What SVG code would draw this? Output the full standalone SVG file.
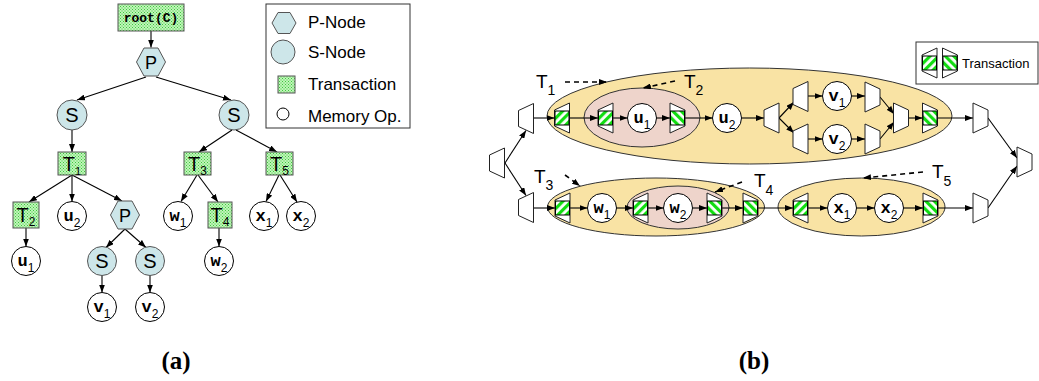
<svg xmlns="http://www.w3.org/2000/svg" width="1039" height="381" viewBox="0 0 1039 381">
<style>
.ln{stroke:#000;stroke-width:1.1;fill:none}
.dash{stroke:#000;stroke-width:1.6;fill:none;stroke-dasharray:5,4}
.blue{fill:#cde6e9;stroke:#555;stroke-width:1}
.mem{fill:#fff;stroke:#000;stroke-width:1}
.box{fill:url(#dots);stroke:#555;stroke-width:1}
.lbl{font-family:"Liberation Sans",Arial,sans-serif;fill:#000}
.mono{font-family:"Liberation Mono","Courier New",monospace;font-weight:bold;fill:#000}
.sub{font-family:"Liberation Sans",Arial,sans-serif;font-weight:normal}
.yel{fill:#f9e3a4;stroke:#333;stroke-width:1}
.pink{fill:#eed4cb;stroke:#333;stroke-width:1}
.trap{fill:#fff;stroke:#222;stroke-width:1}
</style>
<defs>
<pattern id="dots" width="3" height="3" patternUnits="userSpaceOnUse">
<rect width="3" height="3" fill="#bff5b8"/>
<rect x="0" y="0" width="1" height="1" fill="#3fc83f"/>
<rect x="1.5" y="1.5" width="1" height="1" fill="#3fc83f"/>
</pattern>
<pattern id="stA" width="6" height="6" patternUnits="userSpaceOnUse" patternTransform="rotate(45)">
<rect width="6" height="6" fill="#fff"/>
<rect width="3.2" height="6" fill="#11dd11"/>
</pattern>
<pattern id="stB" width="6" height="6" patternUnits="userSpaceOnUse" patternTransform="rotate(-45)">
<rect width="6" height="6" fill="#fff"/>
<rect width="3.2" height="6" fill="#11dd11"/>
</pattern>
<marker id="ah" viewBox="0 0 8 6" refX="8" refY="3" markerWidth="8" markerHeight="6" markerUnits="userSpaceOnUse" orient="auto">
<path d="M0,0 L8,3 L0,6 z" fill="#000"/>
</marker>
<polygon id="hex" points="-14.5,0 -7,-14 7,-14 14.5,0 7,14 -7,14" class="blue"/>
<g id="tb"><polygon class="trap" points="-7.5,-8 7.5,-15 7.5,15 -7.5,8"/><rect x="-7" y="-7" width="14" height="14" fill="url(#stA)" stroke="#000" stroke-width="1"/></g>
<g id="te"><polygon class="trap" points="-7.5,-15 7.5,-8 7.5,8 -7.5,15"/><rect x="-7" y="-7" width="14" height="14" fill="url(#stB)" stroke="#000" stroke-width="1"/></g>
<polygon id="fk" class="trap" points="-7.5,-8 7.5,-15 7.5,15 -7.5,8"/>
<polygon id="jn" class="trap" points="-7.5,-15 7.5,-8 7.5,8 -7.5,15"/>
</defs>
<rect width="1039" height="381" fill="#fff"/>

<!-- ===== (a) tree ===== -->
<g id="connectors-a">
<line class="ln" x1="151" y1="31" x2="151" y2="47.5" marker-end="url(#ah)"/>
<line class="ln" x1="146" y1="77" x2="77" y2="100" marker-end="url(#ah)"/>
<line class="ln" x1="156" y1="77" x2="231" y2="100" marker-end="url(#ah)"/>
<line class="ln" x1="72" y1="130" x2="72" y2="152" marker-end="url(#ah)"/>
<line class="ln" x1="232" y1="130" x2="199" y2="152" marker-end="url(#ah)"/>
<line class="ln" x1="236" y1="130" x2="277" y2="152" marker-end="url(#ah)"/>
<line class="ln" x1="72" y1="175" x2="29" y2="202" marker-end="url(#ah)"/>
<line class="ln" x1="72" y1="175" x2="72" y2="201.5" marker-end="url(#ah)"/>
<line class="ln" x1="72" y1="175" x2="122" y2="201" marker-end="url(#ah)"/>
<line class="ln" x1="197" y1="175" x2="181" y2="201.5" marker-end="url(#ah)"/>
<line class="ln" x1="198" y1="175" x2="218" y2="202" marker-end="url(#ah)"/>
<line class="ln" x1="279" y1="175" x2="266" y2="201.5" marker-end="url(#ah)"/>
<line class="ln" x1="280" y1="175" x2="297" y2="202" marker-end="url(#ah)"/>
<line class="ln" x1="26" y1="228" x2="26" y2="246.5" marker-end="url(#ah)"/>
<line class="ln" x1="125" y1="229" x2="106" y2="247.5" marker-end="url(#ah)"/>
<line class="ln" x1="125" y1="229" x2="146" y2="247.5" marker-end="url(#ah)"/>
<line class="ln" x1="219" y1="228" x2="219" y2="246.5" marker-end="url(#ah)"/>
<line class="ln" x1="102" y1="275" x2="102" y2="292.5" marker-end="url(#ah)"/>
<line class="ln" x1="150" y1="275" x2="150" y2="292.5" marker-end="url(#ah)"/>
</g>

<g id="root"><rect class="box" x="118" y="4" width="66" height="27"/><text class="mono" x="151" y="22" font-size="13" text-anchor="middle">root(C)</text></g>
<g id="P1"><use href="#hex" x="151" y="62"/><text class="lbl" x="151" y="68.5" font-size="18" text-anchor="middle">P</text></g>
<g id="S1"><circle class="blue" cx="72" cy="115" r="15"/><text class="lbl" x="72" y="122" font-size="20" text-anchor="middle">S</text></g>
<g id="S2"><circle class="blue" cx="234" cy="115" r="15"/><text class="lbl" x="234" y="122" font-size="20" text-anchor="middle">S</text></g>
<g id="T1"><rect class="box" x="58" y="152" width="28" height="23"/><text class="lbl" x="72" y="171" font-size="20" text-anchor="middle">T<tspan class="sub" font-size="11" dy="4">1</tspan></text></g>
<g id="T3"><rect class="box" x="184" y="152" width="27" height="23"/><text class="lbl" x="197.5" y="171" font-size="20" text-anchor="middle">T<tspan class="sub" font-size="12" dy="4">3</tspan></text></g>
<g id="T5"><rect class="box" x="266" y="152" width="27" height="23"/><text class="lbl" x="279.5" y="171" font-size="20" text-anchor="middle">T<tspan class="sub" font-size="12" dy="4">5</tspan></text></g>
<g id="T2"><rect class="box" x="13" y="202" width="26" height="26"/><text class="lbl" x="26" y="222" font-size="20" text-anchor="middle">T<tspan class="sub" font-size="12" dy="4">2</tspan></text></g>
<g id="u2"><circle class="mem" cx="72" cy="216" r="14.5"/><text class="mono" x="72" y="221" font-size="17" text-anchor="middle">u<tspan class="sub" font-size="12" dy="6">2</tspan></text></g>
<g id="P2"><use href="#hex" x="125" y="215"/><text class="lbl" x="125" y="221.5" font-size="18" text-anchor="middle">P</text></g>
<g id="w1"><circle class="mem" cx="178" cy="216" r="14.5"/><text class="mono" x="178" y="221" font-size="17" text-anchor="middle">w<tspan class="sub" font-size="12" dy="6">1</tspan></text></g>
<g id="T4"><rect class="box" x="208" y="202" width="24" height="26"/><text class="lbl" x="220" y="222" font-size="20" text-anchor="middle">T<tspan class="sub" font-size="12" dy="4">4</tspan></text></g>
<g id="x1"><circle class="mem" cx="264" cy="216" r="14.5"/><text class="mono" x="264" y="221" font-size="17" text-anchor="middle">x<tspan class="sub" font-size="12" dy="6">1</tspan></text></g>
<g id="x2"><circle class="mem" cx="301" cy="216" r="14.5"/><text class="mono" x="301" y="221" font-size="17" text-anchor="middle">x<tspan class="sub" font-size="12" dy="6">2</tspan></text></g>
<g id="u1"><circle class="mem" cx="26" cy="261" r="14.5"/><text class="mono" x="26" y="266" font-size="17" text-anchor="middle">u<tspan class="sub" font-size="12" dy="6">1</tspan></text></g>
<g id="S3"><circle class="blue" cx="102" cy="261" r="14.5"/><text class="lbl" x="102" y="268" font-size="20" text-anchor="middle">S</text></g>
<g id="S4"><circle class="blue" cx="150" cy="261" r="14.5"/><text class="lbl" x="150" y="268" font-size="20" text-anchor="middle">S</text></g>
<g id="w2"><circle class="mem" cx="219" cy="261" r="14.5"/><text class="mono" x="219" y="266" font-size="17" text-anchor="middle">w<tspan class="sub" font-size="12" dy="6">2</tspan></text></g>
<g id="v1"><circle class="mem" cx="102" cy="307" r="14.5"/><text class="mono" x="102" y="312" font-size="17" text-anchor="middle">v<tspan class="sub" font-size="12" dy="6">1</tspan></text></g>
<g id="v2"><circle class="mem" cx="150" cy="307" r="14.5"/><text class="mono" x="150" y="312" font-size="17" text-anchor="middle">v<tspan class="sub" font-size="12" dy="6">2</tspan></text></g>

<g id="legend-a">
<rect x="266" y="4" width="144" height="124" fill="#fff" stroke="#333" stroke-width="1"/>
<polygon class="blue" points="272,23 278,12.5 290,12.5 296,23 290,33.5 278,33.5"/>
<text class="lbl" x="308" y="28" font-size="17">P-Node</text>
<circle class="blue" cx="283" cy="52" r="12"/>
<text class="lbl" x="308" y="58" font-size="17">S-Node</text>
<rect class="box" x="278" y="76" width="17" height="17"/>
<text class="lbl" x="308" y="90" font-size="17">Transaction</text>
<circle class="mem" cx="283" cy="114" r="6"/>
<text class="lbl" x="308" y="122" font-size="17">Memory Op.</text>
</g>

<text x="176" y="369" font-family="'Liberation Serif','Times New Roman',serif" font-weight="bold" font-size="25" text-anchor="middle">(a)</text>

<!-- ===== (b) ===== -->
<g id="regions">
<ellipse id="T1-region" class="yel" cx="749.5" cy="116" rx="202.5" ry="48"/>
<ellipse id="T2-region" class="pink" cx="642" cy="117.5" rx="58" ry="29.5"/>
<ellipse id="T3-region" class="yel" cx="656" cy="207" rx="108.5" ry="29"/>
<ellipse id="T4-region" class="pink" cx="678" cy="207.5" rx="51" ry="21.5"/>
<ellipse id="T5-region" class="yel" cx="861.5" cy="207" rx="83.5" ry="29"/>
</g>

<g id="connectors-b">
<line class="ln" x1="505" y1="163" x2="526" y2="130.5" marker-end="url(#ah)"/>
<line class="ln" x1="505" y1="163" x2="526" y2="195.5" marker-end="url(#ah)"/>
<line class="ln" x1="534" y1="118" x2="554.5" y2="118" marker-end="url(#ah)"/>
<line class="ln" x1="569.5" y1="118" x2="598" y2="118" marker-end="url(#ah)"/>
<line class="ln" x1="613" y1="118" x2="627.5" y2="118" marker-end="url(#ah)"/>
<line class="ln" x1="656.5" y1="118" x2="670" y2="118" marker-end="url(#ah)"/>
<line class="ln" x1="685" y1="118" x2="712.5" y2="118" marker-end="url(#ah)"/>
<line class="ln" x1="741.5" y1="118" x2="764" y2="118" marker-end="url(#ah)"/>
<line class="ln" x1="779" y1="118" x2="794" y2="102" marker-end="url(#ah)"/>
<line class="ln" x1="779" y1="118" x2="794" y2="133" marker-end="url(#ah)"/>
<line class="ln" x1="808" y1="96" x2="822.5" y2="96" marker-end="url(#ah)"/>
<line class="ln" x1="851.5" y1="96" x2="865" y2="96" marker-end="url(#ah)"/>
<line class="ln" x1="808" y1="139" x2="822.5" y2="139" marker-end="url(#ah)"/>
<line class="ln" x1="851.5" y1="139" x2="865" y2="139" marker-end="url(#ah)"/>
<line class="ln" x1="880" y1="97" x2="894" y2="114" marker-end="url(#ah)"/>
<line class="ln" x1="880" y1="139" x2="894" y2="122" marker-end="url(#ah)"/>
<line class="ln" x1="908" y1="118" x2="922.5" y2="118" marker-end="url(#ah)"/>
<line class="ln" x1="937.5" y1="118" x2="973" y2="118" marker-end="url(#ah)"/>
<line class="ln" x1="988" y1="118" x2="1017" y2="158" marker-end="url(#ah)"/>
<line class="ln" x1="988" y1="208" x2="1017" y2="166" marker-end="url(#ah)"/>
<line class="ln" x1="534" y1="208" x2="555" y2="208" marker-end="url(#ah)"/>
<line class="ln" x1="570" y1="208" x2="587.5" y2="208" marker-end="url(#ah)"/>
<line class="ln" x1="616.5" y1="208" x2="633" y2="208" marker-end="url(#ah)"/>
<line class="ln" x1="648" y1="208" x2="663.5" y2="208" marker-end="url(#ah)"/>
<line class="ln" x1="692.5" y1="208" x2="707" y2="208" marker-end="url(#ah)"/>
<line class="ln" x1="722" y1="208" x2="743" y2="208" marker-end="url(#ah)"/>
<line class="ln" x1="758" y1="208" x2="793" y2="208" marker-end="url(#ah)"/>
<line class="ln" x1="808" y1="208" x2="827.5" y2="208" marker-end="url(#ah)"/>
<line class="ln" x1="856.5" y1="208" x2="874.5" y2="208" marker-end="url(#ah)"/>
<line class="ln" x1="903.5" y1="208" x2="923" y2="208" marker-end="url(#ah)"/>
<line class="ln" x1="938" y1="208" x2="973" y2="208" marker-end="url(#ah)"/>
<line class="dash" x1="565" y1="82" x2="607" y2="82" marker-end="url(#ah)"/>
<line class="dash" x1="675" y1="81" x2="643" y2="88" marker-end="url(#ah)"/>
<line class="dash" x1="565" y1="175" x2="580" y2="186" marker-end="url(#ah)"/>
<line class="dash" x1="742" y1="182" x2="715" y2="192" marker-end="url(#ah)"/>
<line class="dash" x1="923" y1="172" x2="863" y2="178" marker-end="url(#ah)"/>
</g>

<g id="fork0"><use href="#fk" x="497" y="163"/></g>
<g id="forkA"><use href="#fk" x="526" y="118.5"/></g>
<g id="forkB"><use href="#fk" x="526" y="207.5"/></g>
<g id="T1-begin"><use href="#tb" x="562" y="118"/></g>
<g id="T2-begin"><use href="#tb" x="605.5" y="118"/></g>
<g id="u1-op"><circle class="mem" cx="642" cy="118" r="14.5"/><text class="mono" x="642" y="123" font-size="17" text-anchor="middle">u<tspan class="sub" font-size="12" dy="6">1</tspan></text></g>
<g id="T2-end"><use href="#te" x="677.5" y="118"/></g>
<g id="u2-op"><circle class="mem" cx="727" cy="118" r="14.5"/><text class="mono" x="727" y="123" font-size="17" text-anchor="middle">u<tspan class="sub" font-size="12" dy="6">2</tspan></text></g>
<g id="fork1"><use href="#fk" x="771.5" y="118"/></g>
<g id="fork1a"><use href="#fk" x="800.5" y="96.5"/></g>
<g id="fork1b"><use href="#fk" x="800.5" y="139"/></g>
<g id="v1-op"><circle class="mem" cx="837" cy="96" r="14.5"/><text class="mono" x="837" y="101" font-size="17" text-anchor="middle">v<tspan class="sub" font-size="12" dy="6">1</tspan></text></g>
<g id="v2-op"><circle class="mem" cx="837" cy="139" r="14.5"/><text class="mono" x="837" y="144" font-size="17" text-anchor="middle">v<tspan class="sub" font-size="12" dy="6">2</tspan></text></g>
<g id="join1a"><use href="#jn" x="872.5" y="97"/></g>
<g id="join1b"><use href="#jn" x="872.5" y="139"/></g>
<g id="merge1"><use href="#jn" x="901" y="118"/></g>
<g id="T1-end"><use href="#te" x="930" y="118"/></g>
<g id="joinA"><use href="#jn" x="980.5" y="118"/></g>
<g id="joinB"><use href="#jn" x="980.5" y="208"/></g>
<g id="mergeF"><use href="#jn" x="1024.5" y="162"/></g>

<g id="T3-begin"><use href="#tb" x="562.5" y="208"/></g>
<g id="w1-op"><circle class="mem" cx="602" cy="208" r="14.5"/><text class="mono" x="602" y="213" font-size="17" text-anchor="middle">w<tspan class="sub" font-size="12" dy="6">1</tspan></text></g>
<g id="T4-begin"><use href="#tb" x="640.5" y="208"/></g>
<g id="w2-op"><circle class="mem" cx="678" cy="208" r="14.5"/><text class="mono" x="678" y="213" font-size="17" text-anchor="middle">w<tspan class="sub" font-size="12" dy="6">2</tspan></text></g>
<g id="T4-end"><use href="#te" x="714.5" y="208"/></g>
<g id="T3-end"><use href="#te" x="750.5" y="208"/></g>
<g id="T5-begin"><use href="#tb" x="800.5" y="208"/></g>
<g id="x1-op"><circle class="mem" cx="842" cy="208" r="14.5"/><text class="mono" x="842" y="213" font-size="17" text-anchor="middle">x<tspan class="sub" font-size="12" dy="6">1</tspan></text></g>
<g id="x2-op"><circle class="mem" cx="889" cy="208" r="14.5"/><text class="mono" x="889" y="213" font-size="17" text-anchor="middle">x<tspan class="sub" font-size="12" dy="6">2</tspan></text></g>
<g id="T5-end"><use href="#te" x="930.5" y="208"/></g>

<g id="labels-b">
<text class="lbl" x="536" y="88" font-size="19">T<tspan font-size="14" dy="7">1</tspan></text>
<text class="lbl" x="684" y="88" font-size="19">T<tspan font-size="14" dy="7">2</tspan></text>
<text class="lbl" x="534" y="183" font-size="19">T<tspan font-size="14" dy="7">3</tspan></text>
<text class="lbl" x="754" y="187" font-size="19">T<tspan font-size="14" dy="8">4</tspan></text>
<text class="lbl" x="932" y="178" font-size="19">T<tspan font-size="14" dy="8">5</tspan></text>
</g>

<g id="legend-b">
<rect x="916" y="42" width="122" height="42" fill="#fff" stroke="#333" stroke-width="1"/>
<use href="#tb" x="929.5" y="63"/>
<use href="#te" x="950" y="63"/>
<text class="lbl" x="962" y="68" font-size="13">Transaction</text>
</g>

<text x="754" y="369" font-family="'Liberation Serif','Times New Roman',serif" font-weight="bold" font-size="25" text-anchor="middle">(b)</text>
</svg>
